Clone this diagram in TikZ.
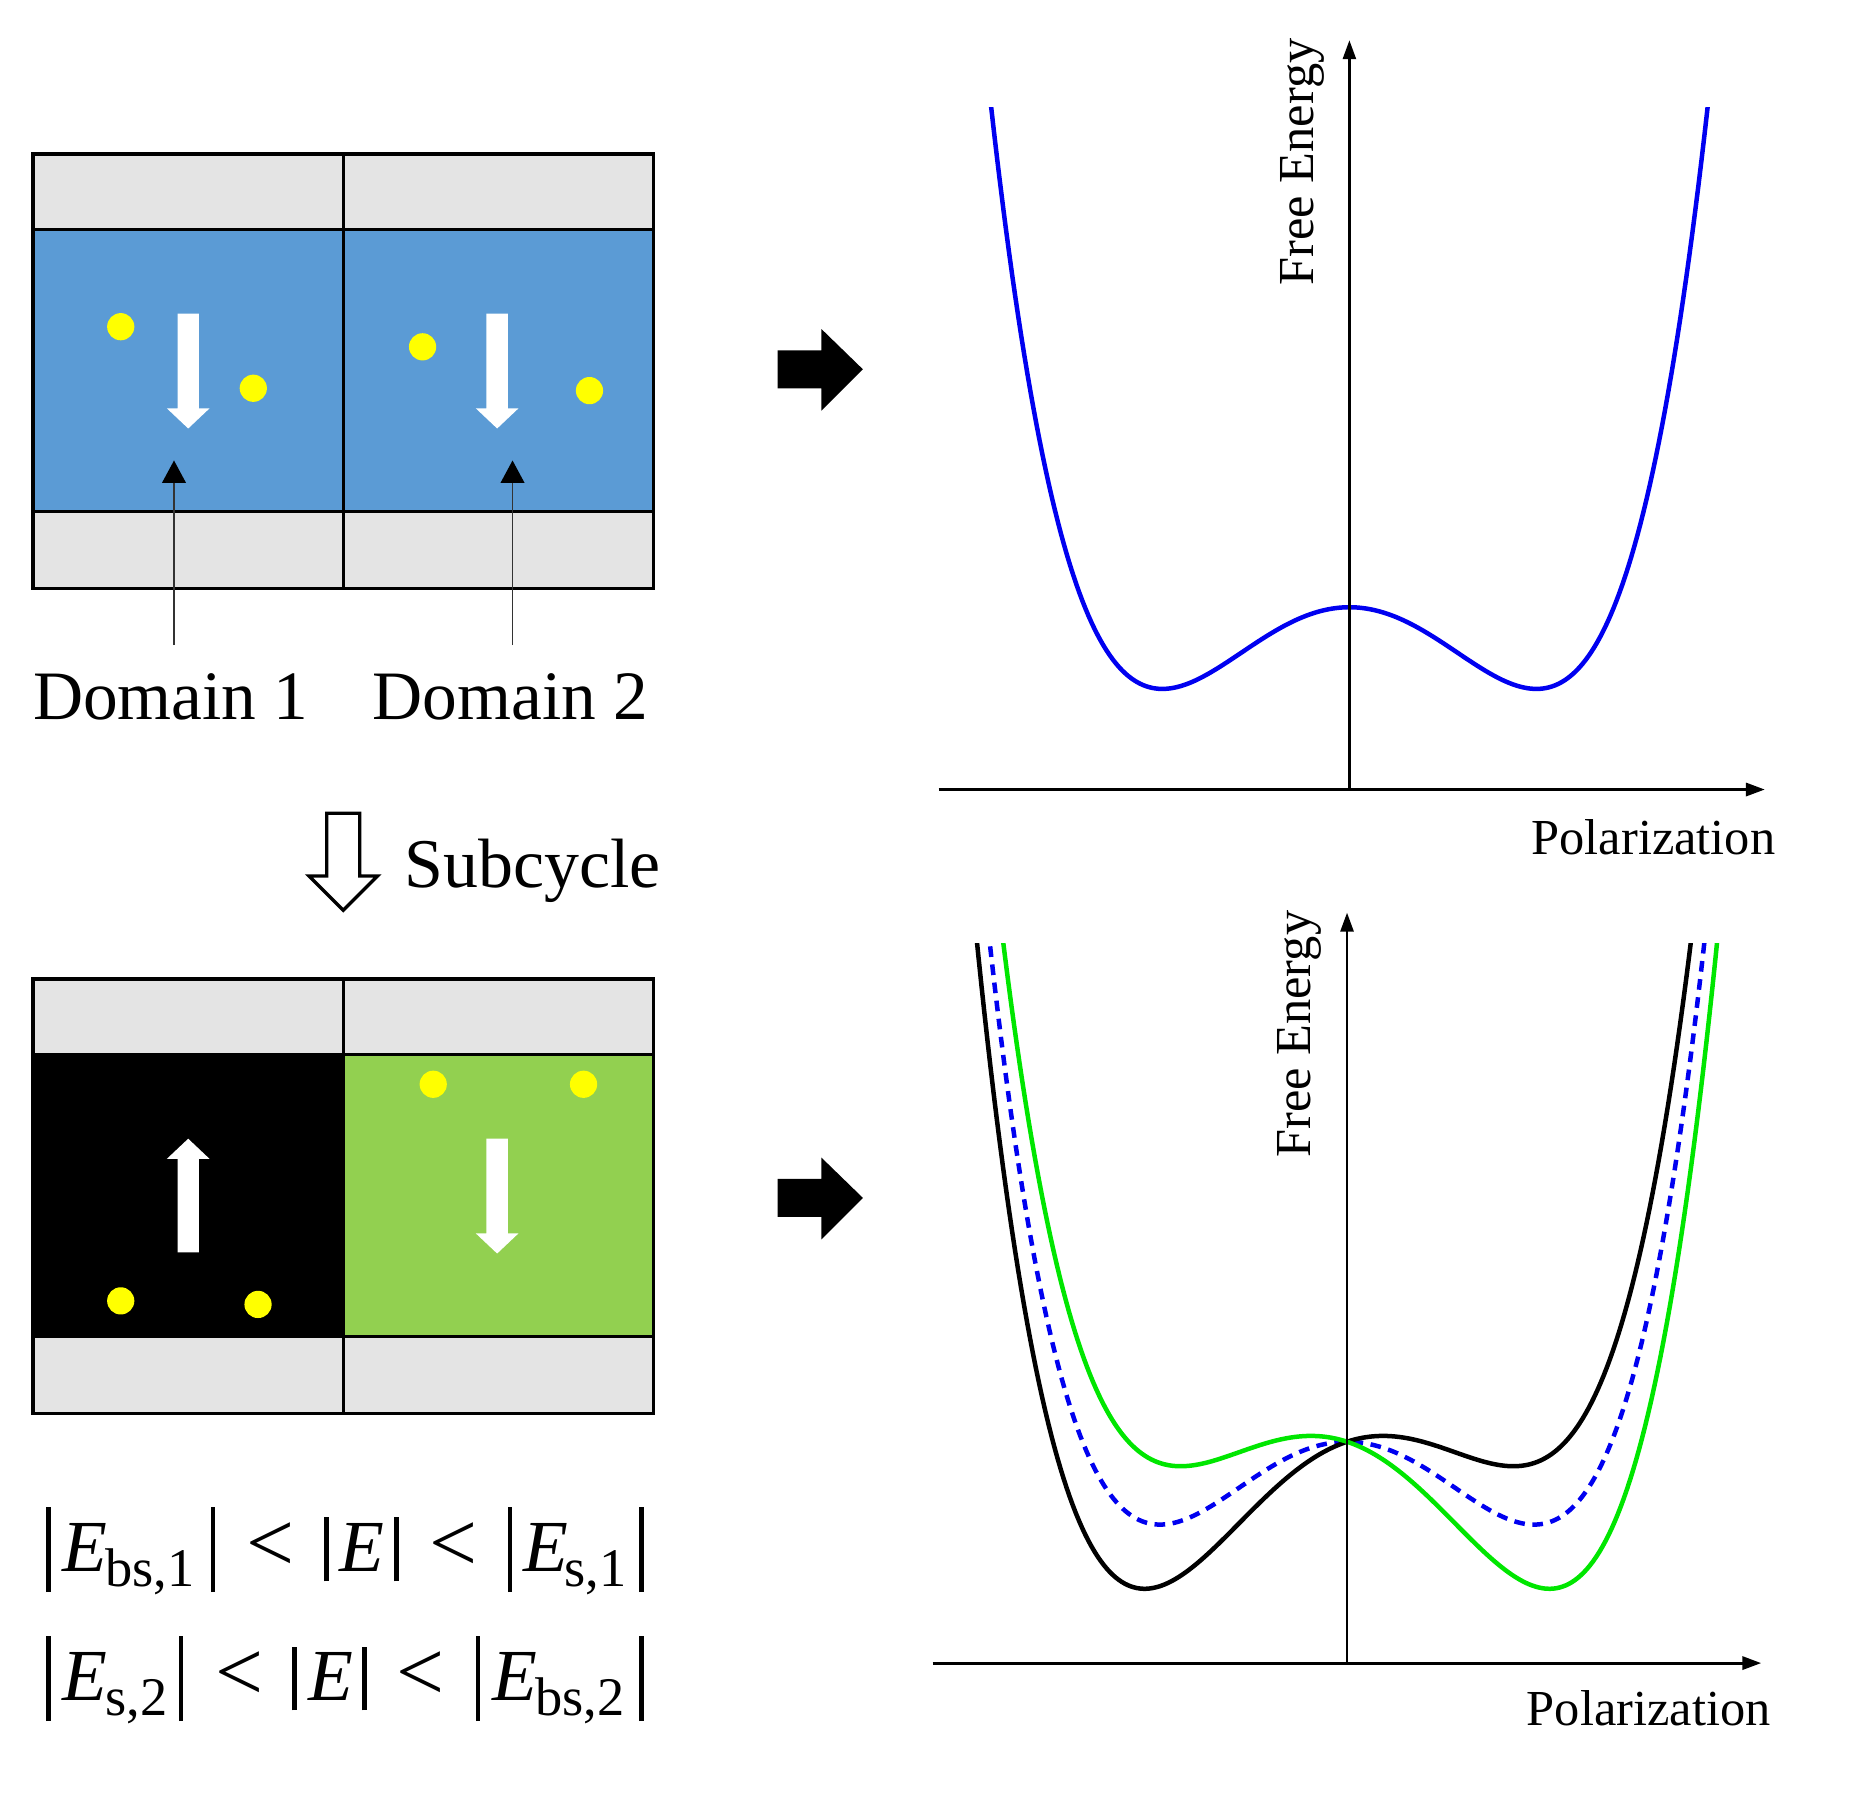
\documentclass[tikz,border=0pt]{standalone}
\usepackage{fontspec}
\setmainfont{Liberation Serif}
\usetikzlibrary{arrows.meta}
\definecolor{cellgrey}{HTML}{E4E4E4}
\definecolor{cellblue}{HTML}{5B9BD5}
\definecolor{cellgreen}{HTML}{92D050}
\definecolor{dotyellow}{HTML}{FFFF00}
\definecolor{curvegreen}{HTML}{00E600}
\definecolor{curveblue}{HTML}{0000F0}
\newcommand{\putat}[2]{\rlap{\hspace*{\dimexpr(#1pt-38pt)/2\relax}#2}}
\newcommand{\obar}{\rule[-8.5pt]{1.9pt}{36pt}}
\newcommand{\ibar}{\rule[-4pt]{1.9pt}{27pt}}
\newcommand{\bigE}{\fontsize{31}{31}\selectfont\itshape E}
\newcommand{\subt}[1]{\raisebox{-6pt}{\fontsize{23}{23}\selectfont #1}}
\newcommand{\lessb}{\fontsize{36}{36}\selectfont <}
\tikzset{
  cellline/.style={draw=black,line width=1.4pt},
  dot/.style={circle,fill=dotyellow,draw=none,minimum size=11.5pt,inner sep=0pt},
  bigarrow/.style={fill=white,draw=none},
  thinarrow/.style={draw=black!80,line width=0.8pt,-{Triangle[length=9.5pt,width=10pt,fill=black,color=black]}},
  blockarrow/.style={fill=black,draw=none},
  axisline/.style={draw=black,-{Triangle[length=8pt,width=5.5pt]}},
  curve/.style={line width=1.9pt,line join=round},
  lab/.style={anchor=base west,inner sep=0pt,outer sep=0pt},
  biglabel/.style={lab,font=\fontsize{29.3}{29.3}\selectfont},
  axislabel/.style={lab,font=\fontsize{21.3}{21.3}\selectfont},
}
\begin{document}
\begin{tikzpicture}[x=0.5pt,y=-0.5pt]
\useasboundingbox (0,0) rectangle (1568,1527);
% --- top block
\fill[cellgrey] (28,130) rectangle (552,194);
\fill[cellgrey] (28,432) rectangle (552,497);
\fill[cellblue] (28,194) rectangle (552,432);
\draw[cellline] (28,130) rectangle (552,497);
\draw[cellline] (28,194) -- (552,194);
\draw[cellline] (28,432) -- (552,432);
\draw[cellline] (290,130) -- (290,497);
\node[dot] (d1) at (102,276) {};
\node[dot] (d2) at (214,328) {};
\node[dot] (d3) at (357,293) {};
\node[dot] (d4) at (498,330) {};
\fill[bigarrow] (150,265) -- (168,265) -- (168,345) -- (177,345) -- (159,362) -- (141,345) -- (150,345) -- cycle;
\fill[bigarrow] (411,265) -- (429,265) -- (429,345) -- (438,345) -- (420,362) -- (402,345) -- (411,345) -- cycle;
\coordinate (t1) at (147,545);
\coordinate (h1) at (147,389);
\coordinate (t2) at (433,545);
\coordinate (h2) at (433,389);
\draw[thinarrow] (t1) -- (h1);
\draw[thinarrow] (t2) -- (h2);
\node[biglabel] (dom1) at (28,608) {Domain 1};
\node[biglabel] (dom2) at (315,608) {Domain 2};
% --- subcycle arrow
\draw[fill=white,draw=black,line width=1.4pt,line join=miter] (276,687) -- (304,687) -- (304,740) -- (319,740) -- (290,769) -- (261,740) -- (276,740) -- cycle;
\node[lab,font=\fontsize{29.5}{29.5}\selectfont] (sub) at (342,750) {Subcycle};
% --- bottom block
\fill[cellgrey] (28,827) rectangle (552,891);
\fill[cellgrey] (28,1129) rectangle (552,1194);
\fill[black] (28,891) rectangle (290,1129);
\fill[cellgreen] (290,891) rectangle (552,1129);
\draw[cellline] (28,827) rectangle (552,1194);
\draw[cellline] (28,891) -- (552,891);
\draw[cellline] (28,1129) -- (552,1129);
\draw[cellline] (290,827) -- (290,1194);
\node[dot] (d5) at (366,916) {};
\node[dot] (d6) at (493,916) {};
\node[dot] (d7) at (102,1099) {};
\node[dot] (d8) at (218,1102) {};
\fill[bigarrow] (150,1058) -- (168,1058) -- (168,979) -- (177,979) -- (159,962) -- (141,979) -- (150,979) -- cycle;
\fill[bigarrow] (411,962) -- (429,962) -- (429,1042) -- (438,1042) -- (420,1059) -- (402,1042) -- (411,1042) -- cycle;
% --- formulas
\node[lab] (f1) at (38,1328) {%
  \putat{38}{\obar}\putat{52}{\bigE}\putat{88}{\subt{bs,1}}\putat{177}{\obar}%
  \putat{207}{\lessb}\putat{273}{\ibar}\putat{286}{\bigE}\putat{332}{\ibar}%
  \putat{362}{\lessb}\putat{428}{\obar}\putat{441}{\bigE}\putat{476}{\subt{s,1}}\putat{539}{\obar}};
\node[lab] (f2) at (38,1437) {%
  \putat{38}{\obar}\putat{52}{\bigE}\putat{88}{\subt{s,2}}\putat{150}{\obar}%
  \putat{181}{\lessb}\putat{246}{\ibar}\putat{260}{\bigE}\putat{305}{\ibar}%
  \putat{334}{\lessb}\putat{401}{\obar}\putat{415}{\bigE}\putat{451}{\subt{bs,2}}\putat{539}{\obar}};
% --- block arrows
\fill[blockarrow] (657,296) -- (694,296) -- (694,278) -- (729,312) -- (694,347) -- (694,328) -- (657,328) -- cycle;
\fill[blockarrow] (657,996) -- (694,996) -- (694,978) -- (729,1012) -- (694,1047) -- (694,1028) -- (657,1028) -- cycle;
% --- top plot
\coordinate (ax1o) at (1140,667);
\coordinate (ax1y) at (1140,34);
\coordinate (ax1l) at (793,667);
\coordinate (ax1r) at (1491,667);
\begin{scope}
\clip (780,91) rectangle (1500,660);
\draw[curve,curveblue] plot[domain=-1.95:1.95,samples=240] ({1140+158*(\x)},{513-69*((\x)*(\x)*(\x)*(\x)-2*(\x)*(\x))});
\end{scope}
\draw[axisline,line width=1.1pt] (ax1o) -- (ax1y);
\draw[axisline,line width=1.3pt] (ax1l) -- (ax1r);
\node[axislabel,rotate=90] (fe1) at (1110,241) {Free Energy};
\node[axislabel] (pol1) at (1294,722) {Polarization};
% --- bottom plot
\coordinate (ax2o) at (1138,1405);
\coordinate (ax2y) at (1138,771);
\coordinate (ax2l) at (788,1405);
\coordinate (ax2r) at (1488,1405);
\begin{scope}
\clip (780,797) rectangle (1500,1400);
\draw[curve,curveblue,dash pattern=on 4.5pt off 3.2pt] plot[domain=-1.95:1.95,samples=240] ({1138+158*(\x)},{1218-70*((\x)*(\x)*(\x)*(\x)-2*(\x)*(\x))});
\draw[curve,black] plot[domain=-2.02:1.88,samples=240] ({1138+158*(\x)},{1218-70*((\x)*(\x)*(\x)*(\x)-2*(\x)*(\x))-52*(\x)});
\draw[curve,curvegreen] plot[domain=-1.88:2.02,samples=240] ({1138+158*(\x)},{1218-70*((\x)*(\x)*(\x)*(\x)-2*(\x)*(\x))+52*(\x)});
\end{scope}
\draw[axisline,line width=1.1pt] (ax2o) -- (ax2y);
\draw[axisline,line width=1.3pt] (ax2l) -- (ax2r);
\node[axislabel,rotate=90] (fe2) at (1107,978) {Free Energy};
\node[axislabel] (pol2) at (1290,1458) {Polarization};
\end{tikzpicture}
\end{document}
